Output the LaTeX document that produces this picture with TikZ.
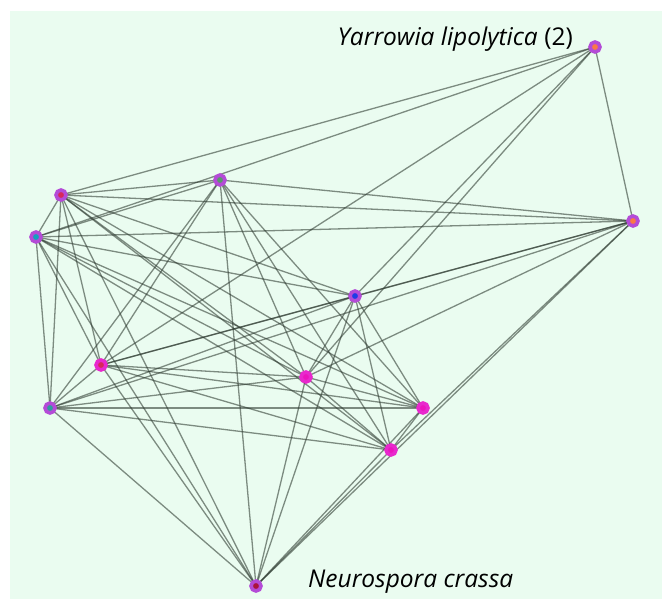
\documentclass[tikz,border=0pt]{standalone}
\usepackage{fontspec}
\setmainfont{Open Sans}
\definecolor{bgmint}{RGB}{234,252,240}
\definecolor{edgec}{RGB}{45,58,48}
\definecolor{ringc}{RGB}{180,75,215}
\definecolor{ringm}{RGB}{232,40,205}
\definecolor{cOr}{RGB}{250,120,70}
\definecolor{cRed}{RGB}{215,40,90}
\definecolor{cCy}{RGB}{20,160,190}
\definecolor{cGr}{RGB}{90,150,110}
\definecolor{cBl}{RGB}{30,60,230}
\definecolor{cMg}{RGB}{235,20,190}
\definecolor{cDr}{RGB}{170,20,60}
\tikzset{
  vtx/.style={circle, draw=#1, line width=3.6pt, inner sep=0pt, minimum size=10pt},
  edg/.style={draw=edgec, line width=1.3pt, opacity=0.58},
  lbl/.style={font=\fontsize{24.5}{28}\selectfont, inner sep=0pt, text=black}
}
\begin{document}
\begin{tikzpicture}[x=1pt,y=-1pt]
\useasboundingbox (0,0) rectangle (662,599);
\fill[white] (0,0) rectangle (662,599);
\fill[bgmint] (10,11) rectangle (662,599);
% node positions
\coordinate (py) at (595,47);
\coordinate (pr) at (633,221);
\coordinate (pa) at (61,195);
\coordinate (pb) at (36,237);
\coordinate (pc) at (220,180);
\coordinate (pd) at (355,296);
\coordinate (pe) at (101,365);
\coordinate (pf) at (306,377);
\coordinate (pg) at (50,408);
\coordinate (ph) at (423,408);
\coordinate (pi) at (391,450);
\coordinate (pn) at (256,586);
% edges
\foreach \u/\v in {py/pa,py/pb,py/pe,py/pd,py/pf,py/pr,
  pr/pa,pr/pb,pr/pc,pr/pd,pr/pe,pr/pg,pr/pf,pr/pi,pr/pn,
  pa/pb,pa/pc,pa/pd,pa/pe,pa/pf,pa/pg,pa/ph,pa/pi,pa/pn,
  pb/pc,pb/pd,pb/pe,pb/pf,pb/pg,pb/ph,pb/pi,pb/pn,
  pc/pe,pc/pf,pc/pg,pc/ph,pc/pi,pc/pn,
  pd/pe,pd/pf,pd/pg,pd/ph,pd/pi,pd/pn,
  pe/pf,pe/pg,pe/ph,pe/pi,pe/pn,
  pf/pg,pf/ph,pf/pi,pf/pn,
  pg/ph,pg/pi,pg/pn,
  ph/pi,ph/pn,pi/pn}
  {\draw[edg] (\u) -- (\v);}
% vertices
\node[vtx=ringc, fill=cOr] (y) at (py) {};
\node[vtx=ringc, fill=cOr] (r) at (pr) {};
\node[vtx=ringc, fill=cRed] (a) at (pa) {};
\node[vtx=ringc, fill=cCy] (b) at (pb) {};
\node[vtx=ringc, fill=cGr] (c) at (pc) {};
\node[vtx=ringc, fill=cBl] (d) at (pd) {};
\node[vtx=ringm, fill=cRed] (e) at (pe) {};
\node[vtx=ringm, fill=cMg] (f) at (pf) {};
\node[vtx=ringc, fill=cCy!60!cGr] (g) at (pg) {};
\node[vtx=ringm, fill=cMg] (h) at (ph) {};
\node[vtx=ringm, fill=cMg] (i) at (pi) {};
\node[vtx=ringc, fill=cDr] (n) at (pn) {};
% labels
\node[lbl, anchor=base east] (ly) at (573,46) {\textit{Yarrowia lipolytica} (2)};
\node[lbl, anchor=base west] (ln) at (308,587) {\textit{Neurospora crassa}};
\end{tikzpicture}
\end{document}
